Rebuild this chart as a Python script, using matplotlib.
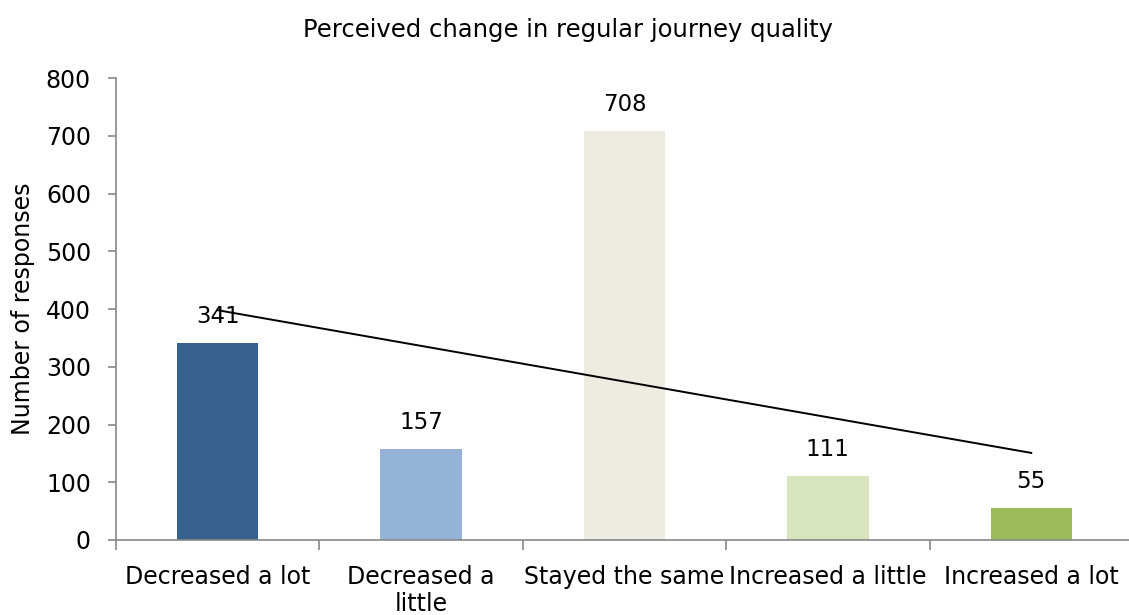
import numpy as np
import matplotlib.pyplot as plt

categories = ["Decreased a lot", "Decreased a\nlittle", "Stayed the same",
              "Increased a little", "Increased a lot"]
responses = [341, 157, 708, 111, 55]
bar_colors = ["#36608E", "#95B3D7", "#EEECE1", "#D7E4BD", "#9BBB59"]

plt.rcParams['font.family'] = ['DejaVu Sans']

fig = plt.figure(figsize=(11.29, 6.15), dpi=100)
ax = fig.add_axes([0.1027, 0.122, 0.9008, 0.751])

x = np.arange(len(categories))
ax.bar(x, responses, width=0.4, color=bar_colors, zorder=2)

# linear trendline through the bar values
slope, intercept = np.polyfit(x, responses, 1)
ax.plot(x, slope * x + intercept, color="black", lw=1.4, zorder=3)

for xi, v in zip(x, responses):
    ax.annotate(str(v), (xi, v), xytext=(0, 19), textcoords="offset points",
                ha="center", va="center", fontsize=16.5)

ax.set_xlim(-0.5, len(categories) - 0.5)
ax.set_ylim(0, 800)
ax.set_yticks(range(0, 801, 100))
ax.tick_params(axis="y", labelsize=17, length=6, color="#888888", width=1.2, pad=12)

ax.set_xticks(x)
ax.set_xticklabels(categories, fontsize=17, linespacing=1.15)
ax.tick_params(axis="x", length=0, pad=18)
ax.set_xticks(np.arange(-0.5, len(categories)), minor=True)
ax.tick_params(axis="x", which="minor", length=7, color="#888888", width=1.2)

for s in ["top", "right"]:
    ax.spines[s].set_visible(False)
for s in ["left", "bottom"]:
    ax.spines[s].set_color("#888888")
    ax.spines[s].set_linewidth(1.2)

ax.set_ylabel("Number of responses", fontsize=17, labelpad=8)
fig.text(0.503, 0.951, "Perceived change in regular journey quality",
         ha="center", va="center", fontsize=17.5)

fig.savefig("out.png", dpi=100)
